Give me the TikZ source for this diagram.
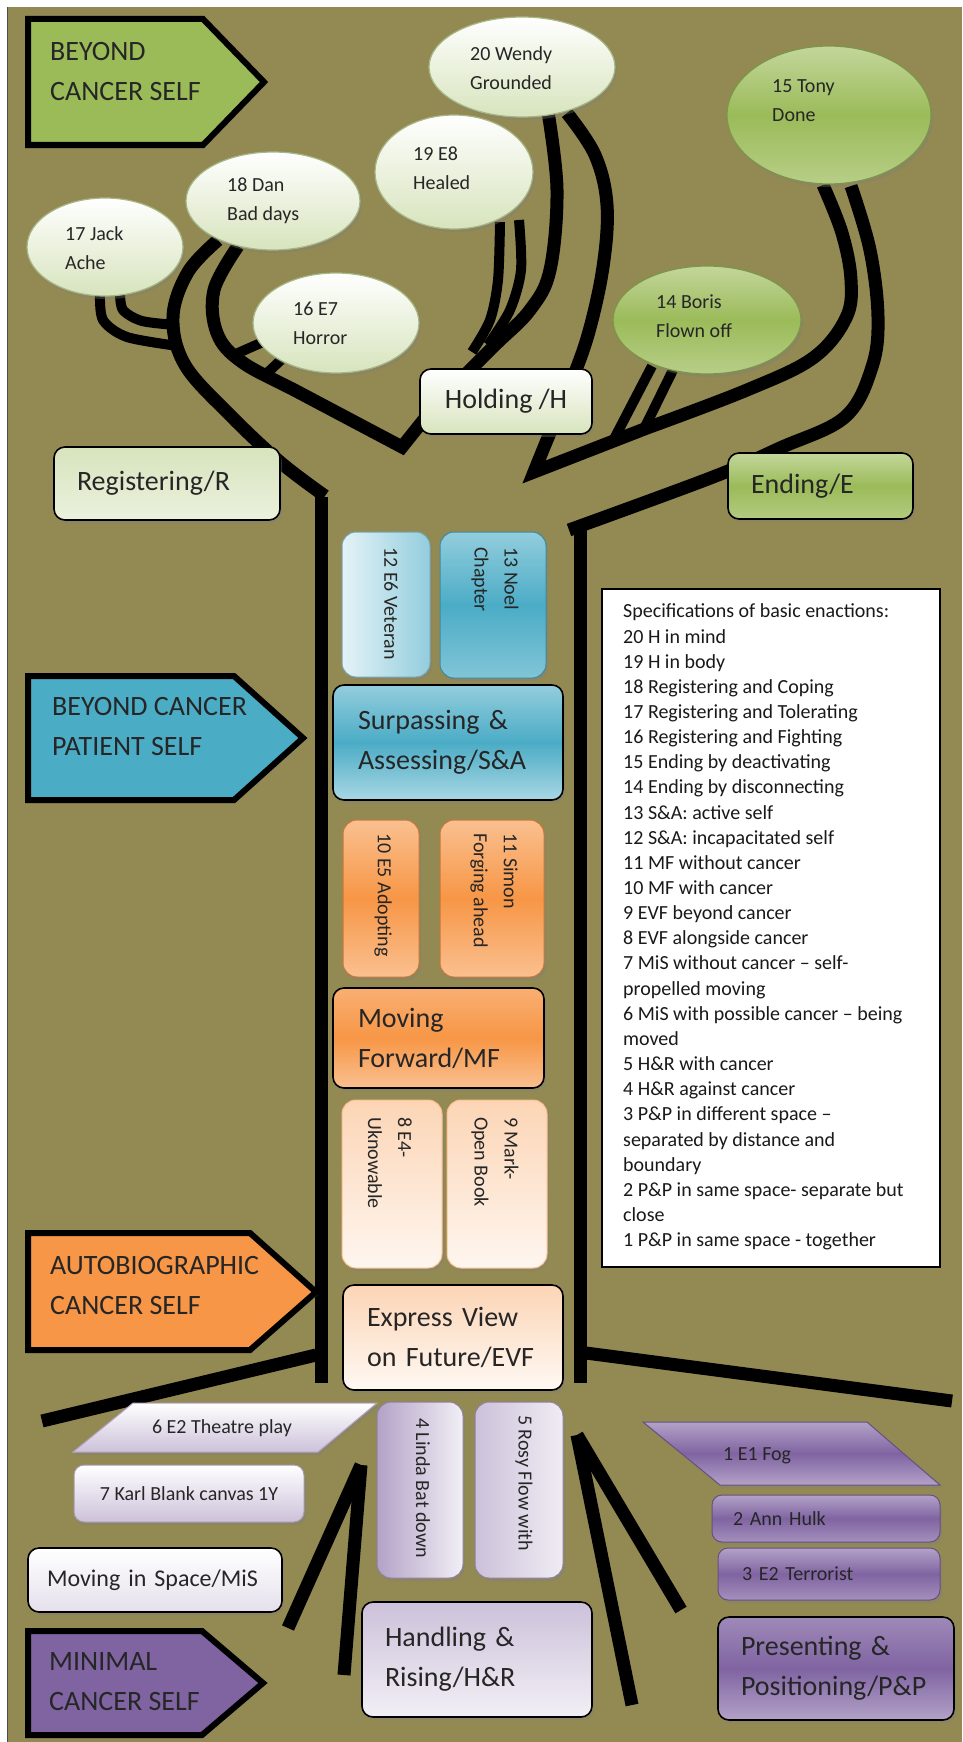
\documentclass[tikz,border=0pt]{standalone}
\usepackage{fontspec}
\setmainfont{Carlito}
\usetikzlibrary{shapes.geometric,shadows}

\definecolor{bark}{HTML}{938953}
\definecolor{gA}{HTML}{9BBB59}
\definecolor{gL}{HTML}{C3D69B}
\definecolor{gP}{HTML}{D7E4BD}
\definecolor{gW}{HTML}{EBF1DE}
\definecolor{bA}{HTML}{4BACC6}
\definecolor{bL}{HTML}{93CDDD}
\definecolor{oA}{HTML}{F79646}
\definecolor{oL}{HTML}{FAC090}
\definecolor{oP}{HTML}{FCD5B5}
\definecolor{oW}{HTML}{FDE9D9}
\definecolor{pA}{HTML}{8064A2}
\definecolor{pL}{HTML}{B3A2C7}
\definecolor{pP}{HTML}{CCC1DA}
\definecolor{pW}{HTML}{E5E0EC}

\begin{document}
\begin{tikzpicture}[x=1pt, y=-1pt,
  limb/.style={draw=black, line width=13pt, line cap=butt, line join=round},
  twig/.style={draw=black, line width=10pt, line cap=butt, line join=round},
  dropsh/.style={drop shadow={shadow xshift=2pt, shadow yshift=-3pt, opacity=.35}},
  selfarrow/.style={draw=black, line width=6pt, line join=miter, dropsh},
  selftext/.style={font=\fontsize{28}{40}\selectfont, align=left, anchor=west, inner sep=0pt, text=black!85},
  leaf/.style={ellipse, draw=gL!85!black, line width=1.2pt, top color=white, bottom color=gP, dropsh, inner sep=0pt},
  ripe/.style={ellipse, draw=gA!80!black, line width=1.2pt, top color=gL, bottom color=gL!70!gA, middle color=gA, dropsh, inner sep=0pt},
  leaftext/.style={font=\fontsize{20}{29}\selectfont, align=left, anchor=west, inner sep=0pt, text=black!85},
  stage/.style={rectangle, rounded corners=11pt, draw=black, line width=1.6pt, dropsh, align=left, inner ysep=0pt, font=\fontsize{28}{40}\selectfont, text=black!85},
  chip/.style={rectangle, rounded corners=11pt, line width=1pt, dropsh, align=center, inner ysep=0pt, font=\fontsize{20}{29}\selectfont, text=black!85},
  chiptext/.style={inner sep=0pt, font=\fontsize{20}{29}\selectfont, text=black!85},
  vtext/.style={rotate=-90, anchor=west, align=left, inner sep=0pt, font=\fontsize{20}{30}\selectfont, text=black!85},
  spec/.style={rectangle, draw=black, line width=1.5pt, fill=white},
  spectext/.style={anchor=west, align=left, inner sep=0pt, font=\fontsize{20}{25.15}\selectfont, text=black!90}
]
\useasboundingbox (0,0) rectangle (962,1742);
\fill[white] (0,0) rectangle (962,1742);
\fill[bark] (7,7) rectangle (962,1742);
\draw[black!70, line width=1.2pt] (7.6,7) -- (7.6,1742);

% ---- crown: limbs from the leaves down to the trunk ----
\draw[limb] plot[smooth, tension=0.6] coordinates {(218,240) (188,272) (173,317) (185,365) (230,415) (280,462) (325,496)};
\draw[limb] (321,497) -- (321,1383);
\draw[limb, line join=miter] plot[smooth, tension=0.6] coordinates {(238,246) (214,290) (217,333) (242,362) (300,393) (402,447)} -- (430,412);
\draw[twig] plot[smooth] coordinates {(100,293) (103,320) (127,337) (178,346)};
\draw[twig] plot[smooth] coordinates {(120,293) (123,310) (142,321) (176,325)};
\draw[twig] (238,353) -- (263,342);
\draw[twig] (265,375) -- (281,360);
\draw[limb] plot[smooth, tension=0.6] coordinates {(548,112) (557,190) (550,270) (530,310) (495,345) (455,385)};
\draw[twig] plot[smooth] coordinates {(500,222) (498,280) (490,320) (472,352)};
\draw[twig] plot[smooth] coordinates {(519,220) (521,270) (510,310) (488,345)};
\draw[limb, line join=miter] plot[smooth, tension=0.6] coordinates {(567,113) (595,155) (607,205) (603,267) (588,335) (568,390) (547,440) (534,472)}
   -- plot[smooth, tension=0.6] coordinates {(647,428) (747,390) (813,358) (846,318) (851,280) (842,233) (823,185)};
\draw[twig] (652,366) -- (613,441);
\draw[twig] (673,370) -- (643,431);
\draw[limb] (580,1383) -- (580,524);
\draw[limb] plot[smooth, tension=0.6] coordinates {(569,530) (713,477) (780,448) (845,417) (872,367) (878,317) (870,250) (851,186)};

% ---- roots ----
\draw[limb] (316,1355) -- (42,1421);
\draw[limb] (586,1353) -- (952,1401);
\draw[limb] (361,1465) -- (288,1628);
\draw[limb] (361,1465) -- (344,1675);
\draw[limb] (577,1435) -- (681,1610);
\draw[limb] (577,1435) -- (632,1705);

% ---- leaves ----
\node[leaf, minimum width=186, minimum height=100] (e20) at (522,67) {};
\node[ripe, minimum width=204, minimum height=138] (e15) at (829,115) {};
\node[ripe, minimum width=188, minimum height=108] (e14) at (707,320) {};
\node[leaf, minimum width=158, minimum height=114] (e19) at (454,172) {};
\node[leaf, minimum width=156, minimum height=98] (e17) at (105,247) {};
\node[leaf, minimum width=174, minimum height=98] (e18) at (273,201) {};
\node[leaf, minimum width=166, minimum height=100] (e16) at (336,323) {};

\node[leaftext] (l20) at (470,68) {20 Wendy\\Grounded};
\node[leaftext] (l15) at (772,101) {15 Tony\\Done};
\node[leaftext] (l14) at (656,316) {14 Boris\\Flown off};
\node[leaftext] (l19) at (413,168) {19 E8\\Healed};
\node[leaftext] (l18) at (227,201) {18 Dan\\Bad days};
\node[leaftext] (l17) at (65,248) {17 Jack\\Ache};
\node[leaftext] (l16) at (293,323) {16 E7\\Horror};

% ---- green stage ----
\node[stage, top color=white, bottom color=gP, align=center, minimum width=172, minimum height=65] (hold) at (506,401.5) {Holding /H};
\node[stage, top color=gP, bottom color=gW, minimum width=226, minimum height=73, text width=180, inner xsep=23] (reg) at (167,483.5) {Registering/R};
\node[stage, top color=gL, bottom color=gL!60!gA, middle color=gA, minimum width=185, minimum height=66, text width=139, inner xsep=23] (endg) at (820.5,486) {Ending/E};

% ---- blue stage ----
\node[chip, left color=white!75!bL, right color=bL, draw=bL!80!black, rounded corners=14pt, minimum width=88, minimum height=145] (v12) at (386,604.5) {};
\node[vtext] (t12) at (391,547) {12 E6 Veteran};
\node[chip, top color=bL, bottom color=bL!75!bA, middle color=bA, draw=bA!80!black, rounded corners=14pt, minimum width=106, minimum height=146] (v13) at (493,605) {};
\node[vtext] (t13) at (495,547) {13 Noel\\Chapter};
\node[stage, top color=bL, bottom color=bL!80!white, middle color=bA, minimum width=230, minimum height=115, text width=180, inner xsep=25] (sa) at (448,742.5) {Surpassing \&\\Assessing/S\&A};

% ---- orange stage ----
\node[chip, top color=oL, bottom color=oL, middle color=oA, draw=oA!80!black, rounded corners=14pt, minimum width=76, minimum height=157] (v10) at (381,898.5) {};
\node[vtext] (t10) at (383,833) {10 E5 Adopting};
\node[chip, top color=oL, bottom color=oL, middle color=oA, draw=oA!80!black, rounded corners=14pt, minimum width=104, minimum height=157] (v11) at (492,898.5) {};
\node[vtext] (t11) at (494,833) {11 Simon\\Forging ahead};
\node[stage, top color=oL!60!oA, bottom color=oL, middle color=oA, minimum width=211, minimum height=100, text width=161, inner xsep=25] (mf) at (438.5,1038) {Moving\\Forward/MF};
\node[chip, top color=oP, bottom color=oW!40!white, draw=oL, rounded corners=14pt, minimum width=100, minimum height=168] (v8) at (392,1184) {};
\node[vtext] (t8) at (390,1117) {8 E4-\\Uknowable};
\node[chip, top color=oP, bottom color=oW!40!white, draw=oL, rounded corners=14pt, minimum width=100, minimum height=168] (v9) at (497,1184) {};
\node[vtext] (t9) at (495,1117) {9 Mark-\\Open Book};
\node[stage, top color=oP, bottom color=oW!30!white, minimum width=220, minimum height=105, text width=172, inner xsep=24] (evf) at (453,1337.5) {Express View\\on Future/EVF};

% ---- purple stage ----
\path[dropsh, top color=white, bottom color=pP, draw=pL, line width=1pt] (133,1403) -- (377,1403) -- (318,1452) -- (73,1452) -- cycle;
\node[chiptext] (t6) at (222,1428) {6 E2 Theatre play};
\node[chip, top color=white, bottom color=pP, draw=pP!80!black, rounded corners=10pt, minimum width=230, minimum height=57] (karl) at (189,1493.5) {7 Karl Blank canvas 1Y};
\node[chip, left color=pL, right color=pW!50!white, draw=pL!80!black, rounded corners=14pt, minimum width=86, minimum height=176] (v4) at (420,1490) {};
\node[vtext] (t4) at (423,1418) {4 Linda Bat down};
\node[chip, left color=pP, right color=pW!60!white, draw=pL!80!black, rounded corners=14pt, minimum width=88, minimum height=176] (v5) at (519,1490) {};
\node[vtext] (t5) at (524,1415) {5 Rosy Flow with};
\node[stage, top color=white, bottom color=pW, font=\fontsize{24}{30}\selectfont, minimum width=254, minimum height=64, text width=216, inner xsep=19] (mis) at (155,1580) {Moving in Space/MiS};
\node[stage, top color=pP, bottom color=pW!50!white, minimum width=230, minimum height=115, text width=184, inner xsep=23] (hr) at (477,1659.5) {Handling \&\\Rising/H\&R};
\path[dropsh, top color=pL, bottom color=pL, middle color=pA, draw=pA!80!black, line width=1pt] (643,1422) -- (867,1422) -- (940,1485) -- (720,1485) -- cycle;
\node[chiptext, anchor=west] (t1) at (723,1456) {1 E1 Fog};
\node[chip, top color=pL, bottom color=pL!70!pA, middle color=pA, draw=pA!80!black, rounded corners=10pt, align=left, minimum width=228, minimum height=47, text width=186, inner xsep=21] (ann) at (826,1518.5) {2 Ann Hulk};
\node[chip, top color=pL, bottom color=pL!70!pA, middle color=pA, draw=pA!80!black, rounded corners=10pt, align=left, minimum width=222, minimum height=52, text width=174, inner xsep=24] (terr) at (829,1574) {3 E2 Terrorist};
\node[stage, top color=pL!60!pA, bottom color=pL, middle color=pA, minimum width=236, minimum height=103, text width=190, inner xsep=23] (pp) at (836,1668.5) {Presenting \&\\Positioning/P\&P};

% ---- self arrows ----
\path[selfarrow, fill=gA] (28,19) -- (203,19) -- (264,82) -- (203,145) -- (28,145) -- cycle;
\path[selfarrow, fill=bA] (28,676) -- (234,676) -- (303,738) -- (234,800) -- (28,800) -- cycle;
\path[selfarrow, fill=oA] (28,1233) -- (250,1233) -- (316,1292) -- (250,1350) -- (28,1350) -- cycle;
\path[selfarrow, fill=pA] (28,1631) -- (202,1631) -- (263,1683) -- (202,1735) -- (28,1735) -- cycle;
\node[selftext] (s1) at (50,72) {BEYOND\\CANCER SELF};
\node[selftext] (s2) at (52,727) {BEYOND CANCER\\PATIENT SELF};
\node[selftext] (s3) at (50,1285) {AUTOBIOGRAPHIC\\CANCER SELF};
\node[selftext] (s4) at (49,1682) {MINIMAL\\CANCER SELF};

% ---- legend ----
\node[spec, minimum width=338, minimum height=678] (legend) at (771,928) {};
\node[spectext] (legendtext) at (623,927) {%
Specifications of basic enactions:\\
20 H in mind\\
19 H in body\\
18 Registering and Coping\\
17 Registering and Tolerating\\
16 Registering and Fighting\\
15 Ending by deactivating\\
14 Ending by disconnecting\\
13 S\&A: active self\\
12 S\&A: incapacitated self\\
11 MF without cancer\\
10 MF with cancer\\
9 EVF beyond cancer\\
8 EVF alongside cancer\\
7 MiS without cancer \textendash{} self-\\
propelled moving\\
6 MiS with possible cancer \textendash{} being\\
moved\\
5 H\&R with cancer\\
4 H\&R against cancer\\
3 P\&P in different space \textendash\\
separated by distance and\\
boundary\\
2 P\&P in same space- separate but\\
close\\
1 P\&P in same space - together};
\end{tikzpicture}
\end{document}
